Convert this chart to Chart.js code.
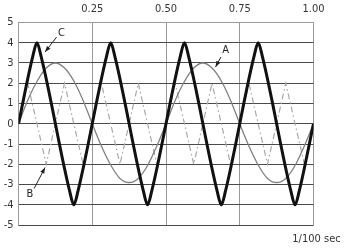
<!DOCTYPE html>
<html>
<head>
<meta charset="utf-8">
<script src="https://cdn.jsdelivr.net/npm/chart.js@4"></script>
<style>
  html, body { margin: 0; padding: 0; background: #fff; }
  #wrap { width: 352px; height: 252px; }
</style>
</head>
<body>
<div id="wrap"><canvas id="waves" width="352" height="252"></canvas></div>
<script>
// time axis in 1/100 sec
const xTicks = [0, 0.25, 0.5, 0.75, 1];
const yTicks = [-5, -4, -3, -2, -1, 0, 1, 2, 3, 4, 5];

// A: thin gray wave
const timeA = [0, 0.031, 0.063, 0.094, 0.125, 0.156, 0.188, 0.219, 0.25,
  0.281, 0.313, 0.344, 0.375, 0.406, 0.438, 0.469, 0.5,
  0.531, 0.563, 0.594, 0.625, 0.656, 0.688, 0.719, 0.75,
  0.781, 0.813, 0.844, 0.875, 0.906, 0.938, 0.969, 1];
const valuesA = [0, 1.15, 2.1, 2.75, 3, 2.75, 2.1, 1.15, 0,
  -1.1, -2.05, -2.7, -2.9, -2.7, -2.05, -1.1, 0,
  1.15, 2.1, 2.75, 3, 2.75, 2.1, 1.15, 0,
  -1.1, -2.05, -2.7, -2.9, -2.7, -2.05, -1.1, 0];

// B: dash-dot wave
const timeB = [0, 0.031, 0.094, 0.156, 0.219, 0.281, 0.344, 0.406, 0.469,
  0.531, 0.594, 0.656, 0.719, 0.781, 0.844, 0.906, 0.969, 1];
const valuesB = [0, 2, -2, 2, -2, 2, -2, 2, -2,
  2, -2, 2, -2, 2, -2, 2, -2, 0];

// C: heavy black wave
const timeC = [0, 0.048, 0.0625, 0.077, 0.173, 0.1875, 0.202,
  0.298, 0.3125, 0.327, 0.423, 0.4375, 0.452,
  0.548, 0.5625, 0.577, 0.673, 0.6875, 0.702,
  0.798, 0.8125, 0.827, 0.923, 0.9375, 0.952, 1];
const valuesC = [0, 3.3, 4, 3.3, -3.3, -4, -3.3,
  3.3, 4, 3.3, -3.3, -4, -3.3,
  3.3, 4, 3.3, -3.3, -4, -3.3,
  3.3, 4, 3.3, -3.3, -4, -3.3, 0];

const FONT = "'Liberation Sans Narrow', 'DejaVu Sans Condensed', Roboto, sans-serif";

const callouts = [
  { text: "C", at: [0.146, 4.45], from: [0.129, 4.28], to: [0.090, 3.54] },
  { text: "A", at: [0.702, 3.62], from: [0.686, 3.29], to: [0.668, 2.80] },
  { text: "B", at: [0.039, -3.46], from: [0.053, -3.2], to: [0.090, -2.16] }
];

const pairUp = (xs, ys) => xs.map((x, i) => ({ x: x, y: ys[i] }));

const calloutPlugin = {
  id: "callouts",
  afterDatasetsDraw(chart) {
    const { ctx, scales: { x, y }, chartArea } = chart;
    ctx.save();
    ctx.fillStyle = "#222";
    ctx.strokeStyle = "#222";
    ctx.lineWidth = 1;
    ctx.font = "11px " + FONT;
    ctx.textAlign = "center";
    ctx.textBaseline = "middle";
    callouts.forEach(c => {
      ctx.fillText(c.text, x.getPixelForValue(c.at[0]), y.getPixelForValue(c.at[1]));
      const x1 = x.getPixelForValue(c.from[0]), y1 = y.getPixelForValue(c.from[1]);
      const x2 = x.getPixelForValue(c.to[0]), y2 = y.getPixelForValue(c.to[1]);
      ctx.beginPath();
      ctx.moveTo(x1, y1);
      ctx.lineTo(x2, y2);
      ctx.stroke();
      const ang = Math.atan2(y2 - y1, x2 - x1);
      ctx.beginPath();
      ctx.moveTo(x2, y2);
      ctx.lineTo(x2 - 6 * Math.cos(ang) + 2.2 * Math.sin(ang), y2 - 6 * Math.sin(ang) - 2.2 * Math.cos(ang));
      ctx.lineTo(x2 - 6 * Math.cos(ang) - 2.2 * Math.sin(ang), y2 - 6 * Math.sin(ang) + 2.2 * Math.cos(ang));
      ctx.closePath();
      ctx.fill();
    });
    // unit note under the plot
    ctx.fillStyle = "#333";
    ctx.font = "11px " + FONT;
    ctx.textAlign = "center";
    ctx.fillText("1/100 sec", chartArea.right + 3, chartArea.bottom + 14);
    ctx.restore();
  }
};

new Chart(document.getElementById("waves"), {
  type: "line",
  data: {
    datasets: [
      {
        label: "C",
        data: pairUp(timeC, valuesC),
        borderColor: "#111",
        borderWidth: 3,
        pointRadius: 0,
        cubicInterpolationMode: "monotone",
        order: 0
      },
      {
        label: "A",
        data: pairUp(timeA, valuesA),
        borderColor: "#808080",
        borderWidth: 1.3,
        pointRadius: 0,
        cubicInterpolationMode: "monotone",
        order: 1
      },
      {
        label: "B",
        data: pairUp(timeB, valuesB),
        borderColor: "#a8a8a8",
        borderWidth: 1.2,
        borderDash: [6, 3, 1.5, 3],
        pointRadius: 0,
        tension: 0,
        order: 2
      }
    ]
  },
  options: {
    responsive: false,
    animation: false,
    layout: { padding: { left: 0, top: 0, right: 38.5, bottom: 27 } },
    plugins: { legend: { display: false }, tooltip: { enabled: false } },
    scales: {
      x: {
        type: "linear",
        position: "top",
        min: 0,
        max: 1,
        afterBuildTicks: s => { s.ticks = xTicks.map(v => ({ value: v })); },
        afterFit: s => { s.height = 22.5; },
        grid: { color: "#999", lineWidth: 1, drawTicks: false },
        border: { color: "#999", width: 1 },
        ticks: {
          padding: 7,
          color: "#333",
          font: { family: FONT, size: 11 },
          maxRotation: 0,
          callback: v => (v === 0 ? "" : v.toFixed(2))
        }
      },
      y: {
        type: "linear",
        min: -5,
        max: 5,
        afterBuildTicks: s => { s.ticks = yTicks.map(v => ({ value: v })); },
        afterFit: s => { s.width = 18.5; },
        grid: { color: "#4a4a4a", lineWidth: 1, drawTicks: false },
        border: { color: "#999", width: 1 },
        ticks: {
          padding: 5,
          color: "#333",
          font: { family: FONT, size: 11 }
        }
      }
    }
  },
  plugins: [calloutPlugin]
});
</script>
</body>
</html>
